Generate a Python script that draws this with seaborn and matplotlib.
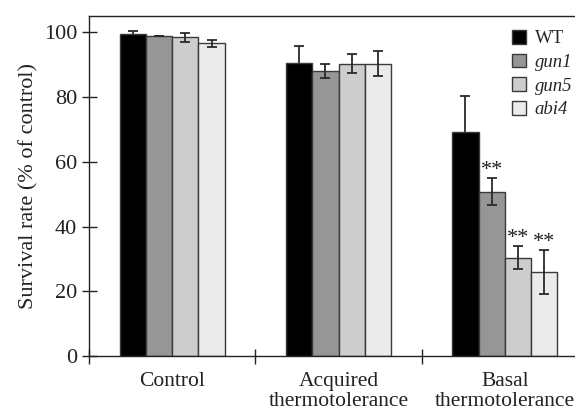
import matplotlib
matplotlib.use("Agg")
import matplotlib.pyplot as plt
import seaborn as sns
import pandas as pd
import numpy as np

# ---- data ----
conditions = ["Control", "Acquired\nthermotolerance", "Basal\nthermotolerance"]
genotypes = ["WT", "gun1", "gun5", "abi4"]
wt_vals = [99.4, 90.7, 69.3]
gun1_vals = [99.0, 88.1, 50.8]
gun5_vals = [98.5, 90.4, 30.4]
abi4_vals = [96.6, 90.4, 26.1]
wt_err = [1.1, 5.2, 11.0]
gun1_err = [0.0, 2.3, 4.2]
gun5_err = [1.4, 3.0, 3.5]
abi4_err = [1.0, 3.8, 6.8]
signif = {"gun1": ["", "", "**"], "gun5": ["", "", "**"], "abi4": ["", "", "**"], "WT": ["", "", ""]}
colors = ["#000000", "#969696", "#cdcdcd", "#ebebeb"]

vals = [wt_vals, gun1_vals, gun5_vals, abi4_vals]
errs = [wt_err, gun1_err, gun5_err, abi4_err]
rows = []
for g, v in zip(genotypes, vals):
    for c, y in zip(conditions, v):
        rows.append({"condition": c, "genotype": g, "value": y})
df = pd.DataFrame(rows)

sns.set_style("ticks")
plt.rcParams["font.family"] = ["Liberation Serif", "DejaVu Serif"]

fig = plt.figure(figsize=(5.75, 4.13), dpi=100)
ax = fig.add_axes([89 / 575, 1 - 356 / 413, 1 - 89 / 575 + 0.01, (356 - 16) / 413])

sns.barplot(data=df, x="condition", y="value", hue="genotype", order=conditions,
            hue_order=genotypes, palette=colors, width=0.632, gap=0,
            edgecolor="#3a3a3a", linewidth=1.0, legend=False, ax=ax, errorbar=None)
for p in ax.patches:
    p.set_zorder(2)

for cont, e, g in zip(ax.containers, errs, genotypes):
    for bar, err, s in zip(cont, e, signif[g]):
        xc = bar.get_x() + bar.get_width() / 2
        h = bar.get_height()
        z = 1 if g == "WT" else 5
        ax.errorbar(xc, h, yerr=err, fmt="none", ecolor="#2a2a2a",
                    elinewidth=1.3, capsize=3.8, capthick=1.3, zorder=z)
        if s:
            ax.text(xc, h + err - 0.6, s, ha="center", va="bottom", fontsize=16,
                    color="#222222")

ax.set_ylim(0, 105.1)
ax.set_xlim(-0.5, 2.456)
ax.set_yticks([0, 20, 40, 60, 80, 100])
ax.tick_params(axis="y", direction="inout", length=10.8, width=1.0, labelsize=16,
               pad=3.0, colors="#222222")
ax.set_xticks([0, 1, 2])
ax.set_xticklabels(conditions, linespacing=1.1)
ax.set_xticks([-0.5, 0.5, 1.5], minor=True)
ax.tick_params(axis="x", which="major", length=0, labelsize=15.5, pad=11.5, colors="#222222")
ax.tick_params(axis="x", which="minor", direction="inout", length=10.8, width=1.0,
               colors="#222222")
ax.set_xlabel("")
ax.set_ylabel("Survival rate (% of control)", fontsize=16, color="#222222", labelpad=4)

for side in ["left", "top", "bottom"]:
    ax.spines[side].set_visible(True)
    ax.spines[side].set_color("#222222")
    ax.spines[side].set_linewidth(1.0)
ax.spines["right"].set_visible(False)

handles = [plt.Rectangle((0, 0), 1, 1, facecolor=c, edgecolor="#3a3a3a", linewidth=1.0)
           for c in colors]
leg = fig.legend(handles, genotypes, loc="upper left",
                 bbox_to_anchor=(512 / 575, 1 - 30 / 413), frameon=False,
                 fontsize=13.5, handlelength=0.75, handleheight=0.75,
                 handletextpad=0.45, labelspacing=0.33, borderpad=0, borderaxespad=0)
for t in leg.get_texts()[1:]:
    t.set_fontstyle("italic")

fig.savefig("out.png", dpi=100)
